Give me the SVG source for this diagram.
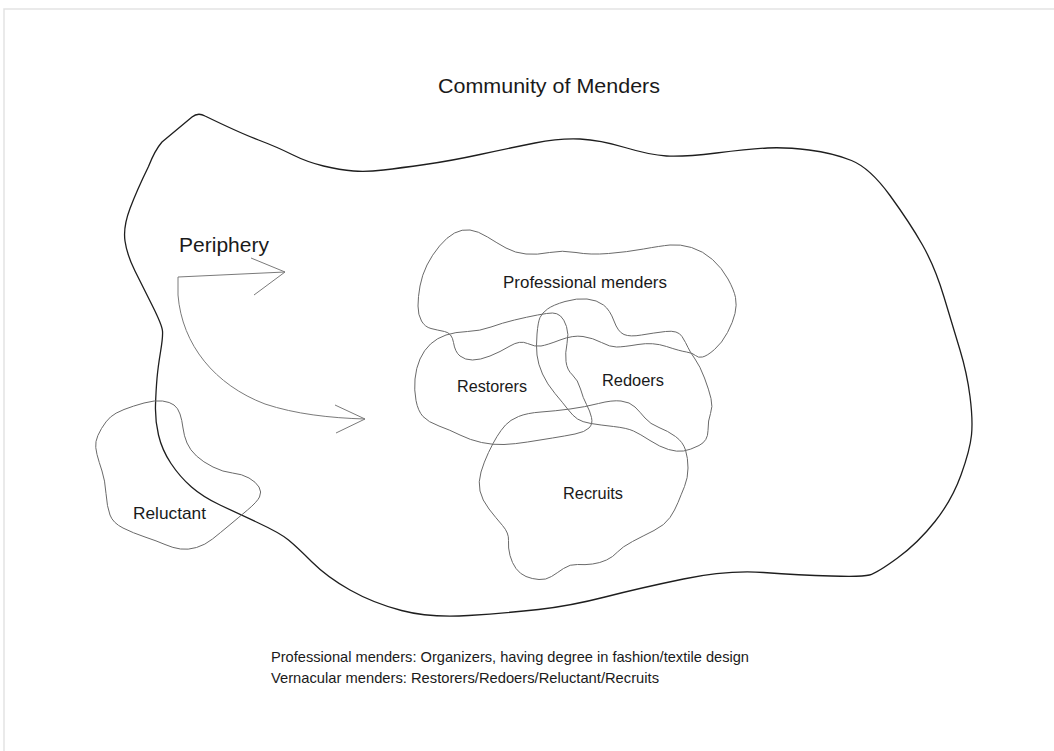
<svg xmlns="http://www.w3.org/2000/svg" width="1054" height="751" viewBox="0 0 1054 751">
<style>
.big{fill:none;stroke:#1e1e1e;stroke-width:1.3;stroke-linejoin:round}
.blob{fill:none;stroke:#6a6a6a;stroke-width:1;stroke-linejoin:round}
.arr{fill:none;stroke:#7a7a7a;stroke-width:1;stroke-linejoin:miter}
.frame{fill:none;stroke:#e3e3e3;stroke-width:1.5}
text{font-family:"Liberation Sans",Arial,sans-serif;fill:#1a1a1a}
</style>
<rect width="1054" height="751" fill="#ffffff"/>
<path class="frame" d="M4,751 V9 H1054"/>
<g id="community">
<path class="big" d="M205,116 Q240,133 258.5,140 Q277,147 292,154.5 Q307,162 323.5,166 Q340,170 353.5,171 Q367,172 383.5,170 Q400,168 425,164.5 Q450,161 480,154.5 Q510,148 535,143 Q560,138 580,139 Q600,140 625,147.5 Q650,155 666.5,156 Q683,157 716.5,153 Q750,149 767.5,148 Q785,147 809,150 Q833,153 851.5,160.5 Q870,168 890,195.5 Q910,223 922.5,245 Q935,267 944,297 Q953,327 960,350 Q967,373 970,396.5 Q973,420 971.5,435 Q970,450 961,475 Q952,500 935,521.5 Q918,543 897.5,558 Q877,573 869.5,575 Q862,577 831,576 Q800,575 763.5,572.5 Q727,570 683.5,579 Q640,588 605,597 Q570,606 538.5,609.5 Q507,613 468.5,615.5 Q430,618 401.5,610.5 Q373,603 350,590 Q327,577 312,562 Q297,547 288.5,540 Q280,533 258.5,523 Q237,513 220,505 Q203,497 191.5,487 Q180,477 171,463.5 Q162,450 158.5,435 Q155,420 155.5,405 Q156,390 157,378.5 Q158,367 160.5,352 Q163,337 162.5,331 Q162,325 152.5,306 Q143,287 135,271 Q127,255 125,241 Q123,227 130,208.5 Q137,190 148.5,166.5 Q155,150 162,142 L192,117 Q198,112 205,116 Z"/>
<text x="549" y="93" font-size="21" text-anchor="middle" textLength="222" lengthAdjust="spacingAndGlyphs">Community of Menders</text>
</g>
<g id="periphery">
<text x="179" y="252" font-size="21" textLength="90" lengthAdjust="spacingAndGlyphs">Periphery</text>
</g>
<g id="professional">
<path class="blob" d="M418,306 Q418,297 420,286 Q422,275 427,265 Q432,255 439.5,246 Q447,237 454.5,233 Q462,229 470,230 Q478,231 487.5,237 Q497,243 506,248 Q515,253 526,254 Q537,255 549.5,252.5 Q562,250 576,252.5 Q590,255 608.5,253.5 Q627,252 643.5,249 Q660,246 670,245 Q680,244 691.5,247.5 Q703,251 712.5,259.5 Q722,268 728,279 Q734,290 735.5,297.5 Q737,305 735,313.5 Q733,322 727.5,332.5 Q722,343 714.5,349.5 Q707,356 702.5,357 Q698,358 695.5,355.5 Q693,353 686.5,352 Q680,351 666.5,346.5 Q653,342 638,344.5 Q623,347 616.5,347 Q610,347 601.5,342.5 Q593,338 583,336.5 Q573,335 560,340 Q547,345 541,346 Q535,347 527.5,343.5 Q520,340 510,346 Q500,352 490,356 Q480,360 472.5,360 Q465,360 460,356 Q455,352 453.5,342.5 Q452,333 444.5,331.5 Q437,330 431,328.5 Q425,327 421.5,321 Q418,315 418,306 Z"/>
<text x="503" y="288" font-size="17" textLength="164" lengthAdjust="spacingAndGlyphs">Professional menders</text>
</g>
<g id="restorers">
<path class="blob" d="M430.5,344 Q437,338 446,335 Q455,332 467.5,331.5 Q480,331 491,327 Q502,323 514.5,320 Q527,317 537.5,315 Q548,313 552.5,313 Q557,313 560.5,316 Q564,319 566.5,326.5 Q569,334 567,343.5 Q565,353 566,361.5 Q567,370 572.5,375 Q578,380 580.5,389 Q583,398 586.5,404.5 Q590,411 591.5,417.5 Q593,424 589,428 Q585,432 575,434 Q565,436 552.5,438 Q540,440 527.5,442 Q515,444 504,444.5 Q493,445 481.5,442.5 Q470,440 460,435 Q450,430 439,426 Q428,422 423,416.5 Q418,411 416,400.5 Q414,390 415,379 Q416,368 420,359 Q424,350 430.5,344 Z"/>
<text x="457" y="392" font-size="17" textLength="70" lengthAdjust="spacingAndGlyphs">Restorers</text>
</g>
<g id="redoers">
<path class="blob" d="M540,317.5 Q542,313 547.5,309 Q553,305 565,301.5 Q577,298 587,299 Q597,300 603.5,305 Q610,310 614,321 Q618,332 624,334.5 Q630,337 641.5,335 Q653,333 665.5,331.5 Q678,330 682,336.5 Q686,343 688,347.5 Q690,352 695,359 Q700,366 704.5,378 Q709,390 711,398.5 Q713,407 710.5,413.5 Q708,420 708,430.5 Q708,441 699,445.5 Q690,450 683.5,451 Q677,452 668.5,449.5 Q660,447 650,440.5 Q640,434 633.5,431 Q627,428 613.5,426.5 Q600,425 591,423.5 Q582,422 577.5,419 Q573,416 568,409.5 Q563,403 555,393.5 Q547,384 542.5,374 Q538,364 537,355 Q536,346 537,334 Q538,322 540,317.5 Z"/>
<text x="602" y="386" font-size="17" textLength="62" lengthAdjust="spacingAndGlyphs">Redoers</text>
</g>
<g id="recruits">
<path class="blob" d="M505.5,425 Q510,420 518.5,416.5 Q527,413 541,412 Q555,411 570,409 Q585,407 598.5,403.5 Q612,400 621,401 Q630,402 635,407 Q640,412 645,418 Q650,424 659,427.5 Q668,431 675.5,436.5 Q683,442 685.5,450 Q688,458 688,468 Q688,478 684.5,486.5 Q681,495 678,502.5 Q675,510 670,517.5 Q665,525 654,530.5 Q643,536 632.5,541.5 Q622,547 617.5,552 Q613,557 606.5,560 Q600,563 592.5,564 Q585,565 577.5,564.5 Q570,564 563.5,568.5 Q557,573 551.5,576.5 Q546,580 539,579.5 Q532,579 526,576.5 Q520,574 516,568.5 Q512,563 510,555.5 Q508,548 508.5,540.5 Q509,533 502.5,525.5 Q496,518 489,509 Q482,500 480,491 Q478,482 481,472 Q484,462 488.5,452.5 Q493,443 497,436.5 Q501,430 505.5,425 Z"/>
<text x="563" y="499" font-size="17" textLength="60" lengthAdjust="spacingAndGlyphs">Recruits</text>
</g>
<g id="reluctant">
<path class="blob" d="M144,403 Q155,400 162.5,401 Q170,402 174,405 Q178,408 180,414 Q182,420 183,428 Q184,436 187,443 Q190,450 196.5,456 Q203,462 213,467 Q223,472 232.5,473 Q242,474 249,478 Q256,482 259,487 Q262,492 259.5,497 Q257,502 247.5,510 Q238,518 229,525.5 Q220,533 212.5,539 Q205,545 196.5,547.5 Q188,550 180.5,549 Q173,548 165,544.5 Q157,541 145,537 Q133,533 123,528 Q113,523 110,515 Q107,507 106,493.5 Q105,480 102,471 Q99,462 97,454.5 Q95,447 96,441.5 Q97,436 101.5,428.5 Q106,421 110.5,417 Q115,413 124,409.5 Q133,406 144,403 Z"/>
<text x="133" y="519" font-size="17" textLength="73" lengthAdjust="spacingAndGlyphs">Reluctant</text>
</g>
<g id="connectors">
<path class="arr" d="M285,272 L178,277 L178,295 C182,345 215,385 265,404 C295,414 330,418 365,419"/>
<path class="arr" d="M251,258 L285,272 L254,295"/>
<path class="arr" d="M335,405 L365,419 L336,433"/>
</g>
<g id="legend">
<text x="271" y="662" font-size="15" textLength="478" lengthAdjust="spacingAndGlyphs">Professional menders: Organizers, having degree in fashion/textile design</text>
<text x="271" y="683" font-size="15" textLength="388" lengthAdjust="spacingAndGlyphs">Vernacular menders: Restorers/Redoers/Reluctant/Recruits</text>
</g>
</svg>
